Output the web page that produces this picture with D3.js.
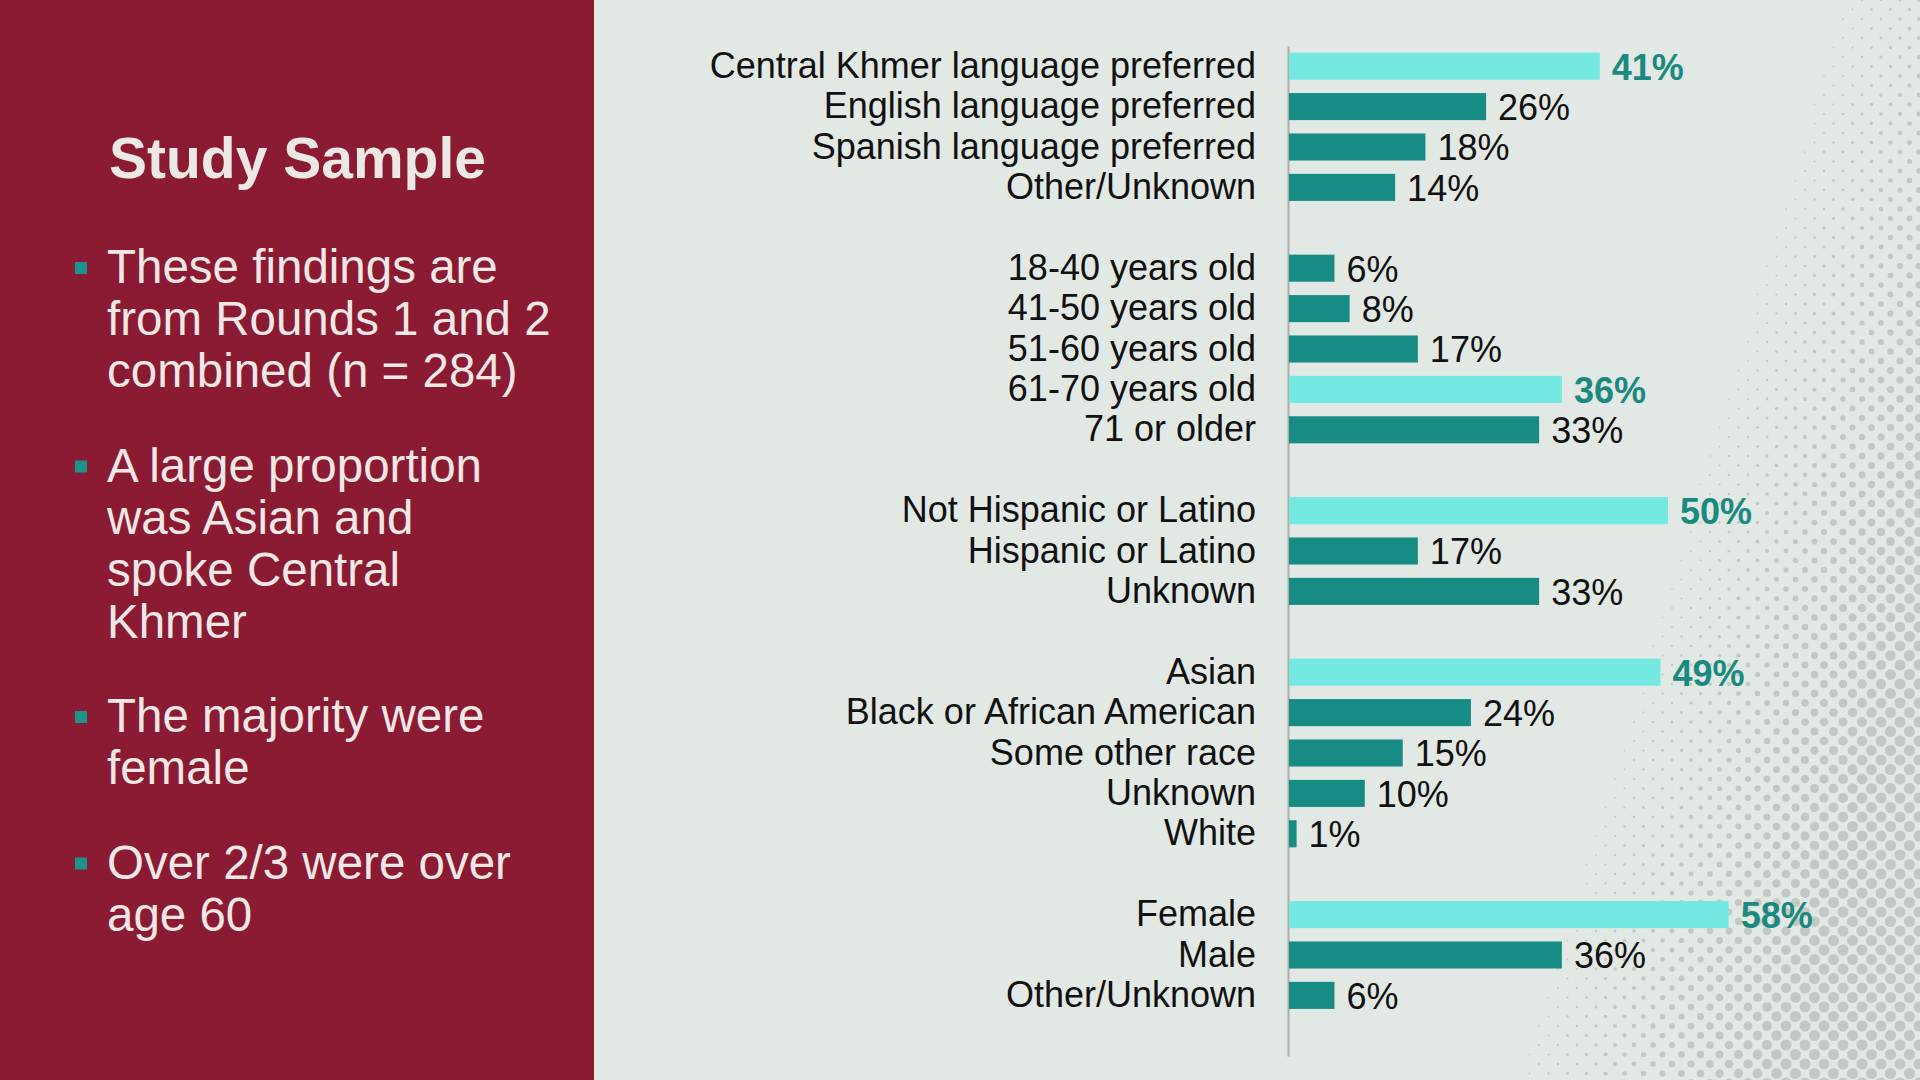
<!DOCTYPE html>
<html>
<head>
<meta charset="utf-8">
<script src="https://cdn.jsdelivr.net/npm/d3@7"></script>
<style>
  html, body { margin: 0; padding: 0; background: #e2e8e3; }
  svg { display: block; font-family: "Liberation Sans", Arial, sans-serif; }
</style>
</head>
<body>
<svg width="1920" height="1080"></svg>
<script>
// data
const languageLabels = ["Central Khmer language preferred", "English language preferred", "Spanish language preferred", "Other/Unknown"];
const languageValues = [41, 26, 18, 14];
const ageLabels = ["18-40 years old", "41-50 years old", "51-60 years old", "61-70 years old", "71 or older"];
const ageValues = [6, 8, 17, 36, 33];
const ethnicityLabels = ["Not Hispanic or Latino", "Hispanic or Latino", "Unknown"];
const ethnicityValues = [50, 17, 33];
const raceLabels = ["Asian", "Black or African American", "Some other race", "Unknown", "White"];
const raceValues = [49, 24, 15, 10, 1];
const sexLabels = ["Female", "Male", "Other/Unknown"];
const sexValues = [58, 36, 6];

const title = "Study Sample";
const bullets = [
    ["These findings are", "from Rounds 1 and 2", "combined (n = 284)"],
    ["A large proportion", "was Asian and", "spoke Central", "Khmer"],
    ["The majority were", "female"],
    ["Over 2/3 were over", "age 60"]
];

const groups = [
    { labels: languageLabels, values: languageValues },
    { labels: ageLabels, values: ageValues },
    { labels: ethnicityLabels, values: ethnicityValues },
    { labels: raceLabels, values: raceValues },
    { labels: sexLabels, values: sexValues }
];

// one row per bar, plus an empty row after every group
const rows = [];
const keys = [];
groups.forEach((g, gi) => {
    const max = d3.max(g.values);
    g.labels.forEach((label, i) => {
        const key = `g${gi}-${i}`;
        rows.push({ key, label, value: g.values[i], top: g.values[i] === max });
        keys.push(key);
    });
    keys.push(`gap${gi}`);
});
const labelOf = new Map(rows.map(r => [r.key, r.label]));

const svg = d3.select("svg");
const W = 1920, H = 1080;

svg.append("rect").attr("width", W).attr("height", H).attr("fill", "#e2e8e3");

// halftone dots in the right corner (decoration only)
const dots = [];
const s = 19;
for (let j = 0; j * s / 2 < H + s; j++) {
    for (let i = 0; i * s < W + s; i++) {
        const x = i * s + (j % 2 ? s / 2 : 0);
        const y = j * s / 2;
        const t = (x - (1760 - 0.3 * y)) / 340;
        const r = 5.5 * Math.pow(Math.min(t, 1), 1.4);
        if (t > 0 && r > 0.8) dots.push({ x, y, r });
    }
}
svg.append("g")
    .selectAll("circle")
    .data(dots)
    .join("circle")
    .attr("cx", d => d.x)
    .attr("cy", d => d.y)
    .attr("r", d => d.r)
    .attr("fill", "#c4c8c4");

// left panel
svg.append("rect").attr("width", 594).attr("height", H).attr("fill", "#8b1a33");

svg.append("text")
    .attr("x", 109)
    .attr("y", 178)
    .attr("font-size", 57)
    .attr("font-weight", "bold")
    .attr("fill", "#ece9e5")
    .text(title);

const lineH = 52;
let base = 283;
const left = svg.append("g");
bullets.forEach(lines => {
    left.append("rect")
        .attr("x", 75)
        .attr("y", base - 21)
        .attr("width", 12)
        .attr("height", 12)
        .attr("fill", "#1b948b");
    lines.forEach((line, k) => {
        left.append("text")
            .attr("x", 107)
            .attr("y", base + k * lineH)
            .attr("font-size", 47.5)
            .attr("fill", "#f1e8e6")
            .text(line);
    });
    base += (lines.length - 1) * lineH + 94.5;
});

// chart
const y = d3.scaleBand()
    .domain(keys)
    .range([46, 1056])
    .paddingInner(0.33)
    .paddingOuter(0.165);

const x = d3.scaleLinear()
    .domain([0, 100])
    .range([1289, 1289 + 758]);

const axis = svg.append("g")
    .attr("transform", `translate(${x(0) - 1},0)`)
    .call(d3.axisLeft(y).tickSize(0).tickPadding(32).tickFormat(k => labelOf.get(k) || ""));
axis.select(".domain").attr("stroke", "#a9aeaa").attr("stroke-width", 2);
axis.selectAll("text")
    .attr("font-family", "Liberation Sans, Arial, sans-serif")
    .attr("font-size", 36)
    .attr("fill", "#111");

svg.append("g")
    .selectAll("rect")
    .data(rows)
    .join("rect")
    .attr("x", x(0))
    .attr("y", d => y(d.key))
    .attr("width", d => x(d.value) - x(0))
    .attr("height", y.bandwidth())
    .attr("fill", d => d.top ? "#74e9e2" : "#178c84");

svg.append("g")
    .selectAll("text")
    .data(rows)
    .join("text")
    .attr("x", d => x(d.value) + 12)
    .attr("y", d => y(d.key) + y.bandwidth() / 2)
    .attr("dy", "0.37em")
    .attr("font-size", 36)
    .attr("font-weight", d => d.top ? "bold" : "normal")
    .attr("fill", d => d.top ? "#1a8a80" : "#111")
    .text(d => d.value + "%");
</script>
</body>
</html>
